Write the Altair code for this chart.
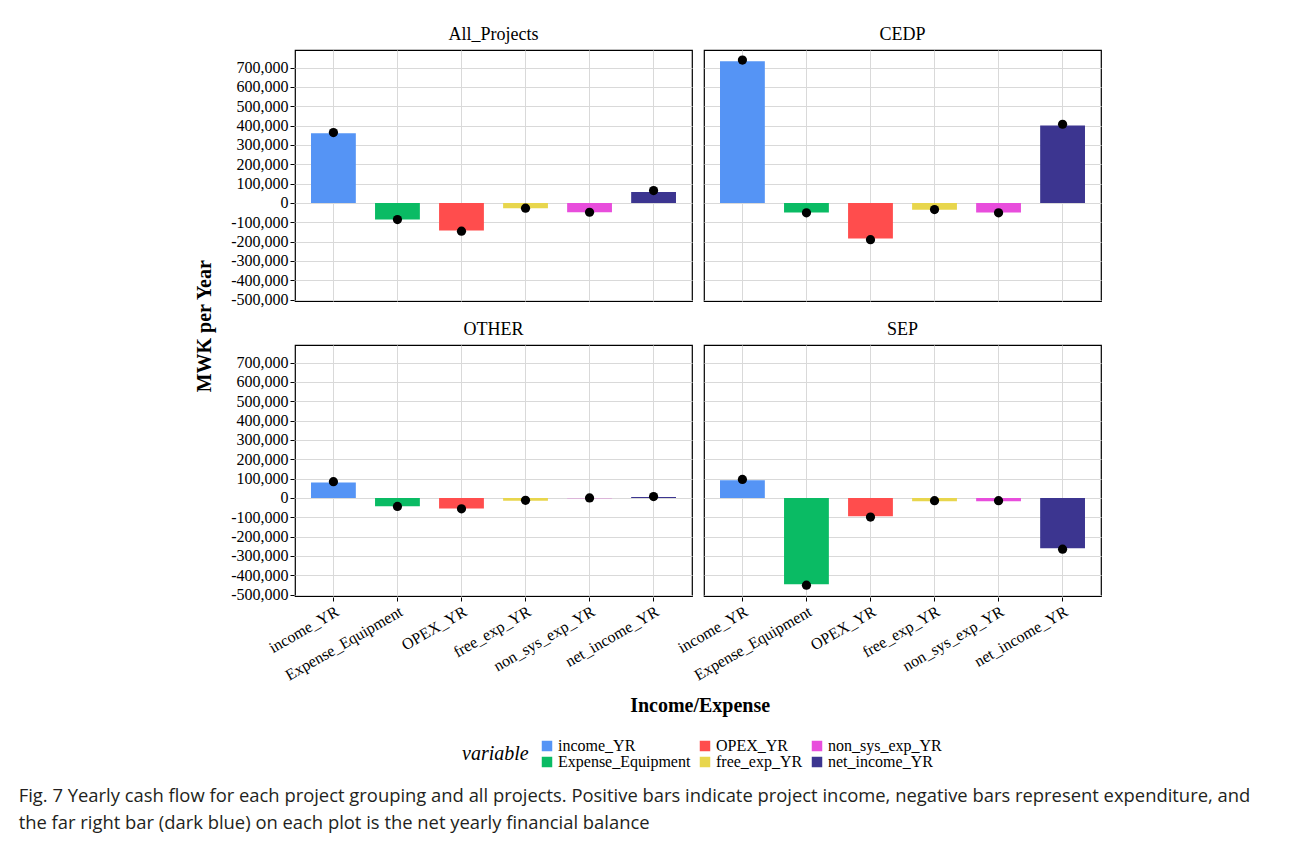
import altair as alt
import pandas as pd

groups = ["All_Projects", "CEDP", "OTHER", "SEP"]
variables = ["income_YR", "Expense_Equipment", "OPEX_YR", "free_exp_YR", "non_sys_exp_YR", "net_income_YR"]

bar_all = [360000, -85000, -142000, -28000, -48000, 57000]
dot_all = [364000, -86000, -146000, -27000, -48000, 64000]
bar_cedp = [733000, -49000, -184000, -35000, -49000, 401000]
dot_cedp = [739000, -51000, -190000, -34000, -51000, 407000]
bar_other = [80000, -43000, -54000, -14000, -1000, 5000]
dot_other = [84000, -44000, -56000, -12000, 0, 7000]
bar_sep = [91000, -446000, -95000, -17000, -17000, -260000]
dot_sep = [96000, -451000, -99000, -14000, -14000, -265000]

legend_order = ["income_YR", "OPEX_YR", "non_sys_exp_YR", "Expense_Equipment", "free_exp_YR", "net_income_YR"]
legend_colors = ["#5594F5", "#FF4D4D", "#E84DDC", "#0ABB64", "#E8D64D", "#3C3590"]

y_ticks = [-500000, -400000, -300000, -200000, -100000, 0, 100000, 200000, 300000, 400000, 500000, 600000, 700000]

caption = [
    "Fig. 7 Yearly cash flow for each project grouping and all projects. Positive bars indicate project income, negative bars represent expenditure, and",
    "the far right bar (dark blue) on each plot is the net yearly financial balance",
]

rows = []
for g, bars_, dots_ in zip(groups, [bar_all, bar_cedp, bar_other, bar_sep], [dot_all, dot_cedp, dot_other, dot_sep]):
    for v, b, d in zip(variables, bars_, dots_):
        rows.append({"group": g, "variable": v, "bar": b, "dot": d})
df = pd.DataFrame(rows)

SERIF = "Liberation Serif"

x_enc = alt.X(
    "variable:N",
    sort=variables,
    scale=alt.Scale(paddingInner=0.3, paddingOuter=0.25),
    axis=alt.Axis(title=None, labelAngle=-30, labelFontSize=16, labelFont=SERIF, tickSize=4),
)
y_scale = alt.Scale(domain=[-507000, 791000], nice=False, zero=False)
y_axis = alt.Axis(
    title=None,
    values=y_ticks,
    labelExpr="replace(format(datum.value, ','), '\u2212', '-')",
    tickSize=4,
    labelFontSize=16,
    labelFont=SERIF,
)

bars = alt.Chart().mark_bar().encode(
    x=x_enc,
    y=alt.Y("bar:Q", scale=y_scale, axis=y_axis),
    color=alt.Color(
        "variable:N",
        scale=alt.Scale(domain=legend_order, range=legend_colors),
        legend=alt.Legend(
            title="variable",
            orient="none",
            legendX=167,
            legendY=688,
            columns=3,
            direction="horizontal",
            symbolType="square",
            symbolSize=110,
            symbolStrokeWidth=0,
            labelFont=SERIF,
            labelFontSize=16,
            labelColor="black",
            labelOffset=3,
            rowPadding=0,
            columnPadding=6,
            titleOrient="left",
            titleAnchor="middle",
            titleFont=SERIF,
            titleFontSize=20,
            titleFontStyle="italic",
            titleFontWeight="normal",
            titleColor="black",
            titlePadding=10,
        ),
    ),
)
points = alt.Chart().mark_circle(size=85, color="black", opacity=1).encode(
    x=x_enc,
    y=alt.Y("dot:Q", scale=y_scale, axis=y_axis),
)

facet = (
    alt.layer(bars, points, data=df)
    .properties(width=397, height=251)
    .facet(
        facet=alt.Facet(
            "group:N",
            sort=groups,
            header=alt.Header(title=None, labelFont=SERIF, labelFontSize=18, labelColor="black", labelPadding=6),
        ),
        columns=2,
        spacing={"row": 18, "column": 10},
    )
    .properties(
        title=alt.TitleParams(
            "MWK per Year", orient="left", anchor="middle", frame="bounds",
            font=SERIF, fontSize=20, fontWeight="bold", color="black", offset=16, dx=28,
        )
    )
)

inner = alt.vconcat(facet, title=alt.TitleParams(
    "Income/Expense", orient="bottom", anchor="middle", frame="bounds",
    font=SERIF, fontSize=20, fontWeight="bold", color="black", offset=13, dx=52,
))

chart = alt.vconcat(inner, title=alt.TitleParams(
    caption, orient="bottom", anchor="start", frame="bounds", font="Open Sans", fontSize=18.4,
    fontWeight="normal", color="#231F20", lineHeight=27, offset=17, dx=-176,
)).properties(
    padding={"left": 10, "top": 17, "right": 10, "bottom": 10}
).configure_view(
    stroke="black", strokeWidth=1.2
).configure_axis(
    grid=True, gridColor="#d9d9d9", gridWidth=1, domain=False,
    tickColor="black", labelColor="black",
)

chart.save("out.html", embed_options={"renderer": "svg", "actions": False})
